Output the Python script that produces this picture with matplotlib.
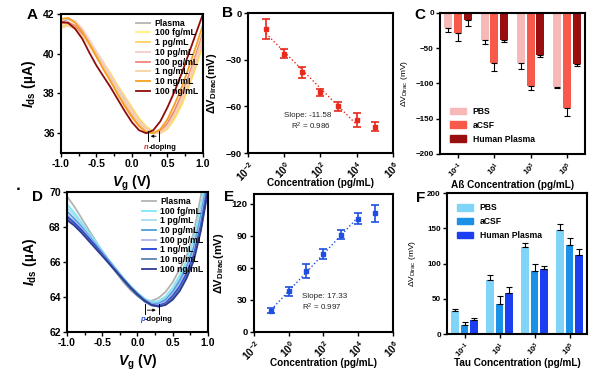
import numpy as np
import matplotlib
matplotlib.use('Agg')
import matplotlib.pyplot as plt
from matplotlib.patches import Patch

plt.rcParams['font.family'] = ['Liberation Sans', 'DejaVu Sans']
plt.rcParams['mathtext.fontset'] = 'custom'
plt.rcParams['mathtext.it'] = 'Liberation Sans:italic:bold'
plt.rcParams['mathtext.rm'] = 'Liberation Sans'
plt.rcParams['mathtext.bf'] = 'Liberation Sans:bold'

# ---------------- data ----------------
vg = [-1.0, -0.9, -0.8, -0.7, -0.6, -0.5, -0.4, -0.3, -0.2, -0.1, 0.0,
      0.1, 0.2, 0.3, 0.4, 0.5, 0.6, 0.7, 0.8, 0.9, 1.0]
conc_labels = ['Plasma', '100 fg/mL', '1 pg/mL', '10 pg/mL', '100 pg/mL',
               '1 ng/mL', '10 ng/mL', '100 ng/mL']

# panel A: Abeta transfer curves (uA)
ab_plasma = [41.55, 41.75, 41.6, 41.2, 40.65, 40.05, 39.45, 38.85, 38.25, 37.7, 37.1,
             36.55, 36.2, 36.0, 36.05, 36.4, 37.0, 37.8, 38.75, 39.8, 40.9]
ab_100fg = [41.3, 41.45, 41.35, 41.05, 40.6, 40.1, 39.55, 39.0, 38.4, 37.85, 37.3,
            36.75, 36.35, 36.1, 36.0, 36.2, 36.7, 37.4, 38.3, 39.3, 40.4]
ab_1pg = [41.35, 41.5, 41.4, 41.05, 40.55, 40.05, 39.5, 38.95, 38.35, 37.8, 37.25,
          36.7, 36.3, 36.05, 36.0, 36.25, 36.8, 37.5, 38.4, 39.4, 40.5]
ab_10pg = [41.7, 41.8, 41.65, 41.25, 40.7, 40.1, 39.5, 38.9, 38.3, 37.75, 37.15,
           36.6, 36.25, 36.05, 36.0, 36.3, 36.9, 37.65, 38.55, 39.6, 40.7]
ab_100pg = [41.5, 41.6, 41.4, 41.0, 40.45, 39.85, 39.25, 38.65, 38.05, 37.45, 36.9,
            36.45, 36.15, 36.0, 36.1, 36.5, 37.15, 37.95, 38.9, 39.95, 41.05]
ab_1ng = [41.3, 41.4, 41.25, 40.9, 40.4, 39.85, 39.3, 38.7, 38.1, 37.55, 37.0,
          36.5, 36.15, 36.0, 36.05, 36.35, 36.95, 37.75, 38.7, 39.75, 40.85]
ab_10ng = [41.75, 41.8, 41.55, 41.1, 40.5, 39.85, 39.2, 38.6, 37.95, 37.35, 36.8,
           36.35, 36.05, 36.0, 36.2, 36.7, 37.45, 38.3, 39.3, 40.35, 41.45]
ab_100ng = [41.6, 41.55, 41.25, 40.75, 40.05, 39.4, 38.85, 38.3, 37.7, 37.1, 36.55,
            36.15, 36.0, 36.15, 36.6, 37.3, 38.1, 39.0, 40.0, 41.0, 42.0]

# panel D: tau transfer curves (uA)
tau_plasma = [69.75, 69.2, 68.55, 67.9, 67.25, 66.6, 66.0, 65.4, 64.85, 64.4, 64.05,
              63.8, 63.78, 63.95, 64.3, 64.85, 65.6, 66.4, 67.7, 69.8, 72.0]
tau_100fg = [69.3, 68.85, 68.3, 67.75, 67.2, 66.65, 66.1, 65.6, 65.1, 64.65, 64.25,
             63.92, 63.72, 63.78, 64.05, 64.55, 65.25, 66.1, 67.3, 69.2, 71.5]
tau_1pg = [69.1, 68.7, 68.2, 67.65, 67.1, 66.6, 66.05, 65.55, 65.05, 64.6, 64.2,
           63.88, 63.67, 63.7, 63.95, 64.45, 65.1, 65.95, 67.1, 68.95, 71.2]
tau_10pg = [68.9, 68.5, 68.05, 67.55, 67.05, 66.55, 66.05, 65.55, 65.05, 64.6, 64.2,
            63.85, 63.62, 63.63, 63.85, 64.3, 64.95, 65.75, 66.85, 68.65, 70.9]
tau_100pg = [68.7, 68.35, 67.95, 67.5, 67.0, 66.5, 66.0, 65.5, 65.0, 64.55, 64.15,
             63.8, 63.58, 63.56, 63.75, 64.15, 64.75, 65.55, 66.6, 68.35, 70.6]
tau_1ng = [68.6, 68.25, 67.85, 67.4, 66.95, 66.45, 65.95, 65.45, 64.95, 64.5, 64.1,
           63.75, 63.53, 63.5, 63.65, 64.05, 64.6, 65.35, 66.4, 68.1, 70.4]
tau_10ng = [68.5, 68.15, 67.75, 67.3, 66.85, 66.4, 65.9, 65.4, 64.95, 64.5, 64.1,
            63.75, 63.52, 63.47, 63.6, 63.95, 64.5, 65.2, 66.25, 67.95, 70.2]
tau_100ng = [68.4, 68.1, 67.7, 67.25, 66.8, 66.35, 65.9, 65.45, 65.0, 64.55, 64.15,
             63.8, 63.55, 63.45, 63.55, 63.85, 64.35, 65.1, 66.1, 67.8, 70.1]

# panels B / E: Dirac shift vs concentration
conc = [1e-1, 1e0, 1e1, 1e2, 1e3, 1e4, 1e5]
ab_shift = [-10, -26, -38, -51, -60, -69, -73]
ab_shift_err = [6.5, 3, 3.5, 2, 2.7, 4.5, 3]
tau_shift = [20, 38, 57, 73, 91, 106, 111]
tau_shift_err = [2, 4, 6.5, 5, 4, 5, 8]
log_ticks = ['$\\mathbf{10^{-2}}$', '$\\mathbf{10^{0}}$', '$\\mathbf{10^{2}}$',
             '$\\mathbf{10^{4}}$', '$\\mathbf{10^{6}}$']

# panels C / F: bars in different media
groups = ['$\\mathbf{10^{-1}}$', '$\\mathbf{10^{1}}$', '$\\mathbf{10^{3}}$', '$\\mathbf{10^{5}}$']
media = ['PBS', 'aCSF', 'Human Plasma']
ab_pbs = [-22, -39, -71, -105]
ab_pbs_err = [5, 5, 8, 2]
ab_acsf = [-28, -71, -104, -135]
ab_acsf_err = [12, 11, 5, 12]
ab_hp = [-10, -38, -60, -73]
ab_hp_err = [8, 4, 3, 3]
tau_pbs = [33, 77, 124, 148]
tau_pbs_err = [2, 7, 5, 8]
tau_acsf = [13, 43, 90, 126]
tau_acsf_err = [4, 11, 9, 10]
tau_hp = [20, 58, 92, 112]
tau_hp_err = [2, 8, 5, 9]

red_cols = ['#b3b3b3', '#fff07a', '#ffd25e', '#f6cdd0', '#f3877c', '#f8d3a6', '#f5a21f', '#8e0c0c']
blue_cols = ['#b3b3b3', '#7ee8f2', '#a9dcf0', '#4aa0dc', '#aab3ec', '#1f3fd8', '#5a82ad', '#2e3b94']
ab_bar_cols = ['#f7b8b8', '#f75a4a', '#990f0f']
tau_bar_cols = ['#80d4f8', '#1a90e6', '#1b3ff0']


def style(ax, tick_size=7.5):
    for s in ax.spines.values():
        s.set_linewidth(1.5)
    ax.tick_params(width=1.0, length=3, labelsize=tick_size, pad=1.5)
    for lab in ax.get_xticklabels() + ax.get_yticklabels():
        lab.set_fontweight('bold')


def rot_labels(ax, size):
    for lab in ax.get_xticklabels():
        lab.set_rotation(45)
        lab.set_ha('right')
        lab.set_va('top')
        lab.set_rotation_mode('anchor')
        lab.set_fontsize(size)


fig = plt.figure(figsize=(6.09, 3.78), dpi=100)

# ---------------- A ----------------
ax = fig.add_axes([0.1002, 0.595, 0.233, 0.368])
for y, c, lab in zip([ab_plasma, ab_100fg, ab_1pg, ab_10pg, ab_100pg, ab_1ng, ab_10ng, ab_100ng],
                     red_cols, conc_labels):
    ax.plot(vg, y, color=c, lw=1.3, label=lab)
ax.set_xlim(-1, 1)
ax.set_ylim(35, 42)
ax.set_xticks([-1, -0.5, 0, 0.5, 1])
ax.set_xticklabels(['-1.0', '-0.5', '0.0', '0.5', '1.0'])
ax.set_xticks([-0.75, -0.25, 0.25, 0.75], minor=True)
ax.set_yticks([36, 38, 40, 42])
ax.tick_params(which='minor', length=2, width=1.0)
ax.set_xlabel('$V_{\\mathbf{g}}$ (V)', fontsize=10, fontweight='bold')
ax.xaxis.set_label_coords(0.5, -0.145)
ax.set_ylabel('$I_{\\mathbf{ds}}$ (µA)', fontsize=10, fontweight='bold')
ax.yaxis.set_label_coords(-0.16, 0.5)
ax.legend(loc='upper right', frameon=False, handlelength=1.6,
          labelspacing=0.08, handletextpad=0.5, borderaxespad=0.15,
          prop={'weight': 'bold', 'size': 6.3})
ax.plot([0.225, 0.225], [35.6, 36.1], color='k', lw=0.7)
ax.plot([0.38, 0.38], [35.6, 36.1], color='k', lw=0.7)
ax.annotate('', xy=(0.225, 35.85), xytext=(0.38, 35.85),
            arrowprops=dict(arrowstyle='-|>', color='k', lw=0.6, mutation_scale=4))
ax.text(0.235, 35.3, 'n', color='#e02020', fontsize=5.5, fontstyle='italic',
        fontweight='bold', ha='right', va='center')
ax.text(0.235, 35.3, '-doping', color='k', fontsize=5.5, fontweight='bold',
        ha='left', va='center')
style(ax)

# ---------------- B ----------------
ax = fig.add_axes([0.407, 0.595, 0.238, 0.370])
lx = np.log10(conc[:6])
k, b = np.polyfit(lx, ab_shift[:6], 1)
ax.plot(conc[:6], k * lx + b, ':', color='#e8291c', lw=1.0)
ax.errorbar(conc, ab_shift, yerr=ab_shift_err, fmt='s', color='#e8291c', ms=3,
            capsize=3, elinewidth=1.2, capthick=1.2)
ax.set_xscale('log')
ax.set_xlim(1e-2, 1e6)
ax.set_ylim(-90, 0)
ax.set_yticks([0, -30, -60, -90])
ax.set_xticks([1e-2, 1e0, 1e2, 1e4, 1e6])
ax.set_xticklabels(log_ticks)
ax.minorticks_off()
ax.set_xlabel('Concentration (pg/mL)', fontsize=7.2, fontweight='bold')
ax.xaxis.set_label_coords(0.5, -0.18)
ax.set_ylabel('$\\mathbf{\\Delta V_{Dirac}}$(mV)', fontsize=8, fontweight='bold')
ax.yaxis.set_label_coords(-0.2, 0.5)
ax.text(10 ** 2.6, -70, 'Slope: -11.58\nR$^2$ = 0.986', fontsize=5.8, ha='right',
        va='center', multialignment='right', color='#222222')
style(ax, 6.8)
rot_labels(ax, 7.2)

# ---------------- C ----------------
ax = fig.add_axes([0.7225, 0.593, 0.238, 0.373])
xpos = np.arange(len(groups))
w = 0.22
for i, (vals, errs) in enumerate([(ab_pbs, ab_pbs_err), (ab_acsf, ab_acsf_err), (ab_hp, ab_hp_err)]):
    ax.bar(xpos + (i - 1) * 0.27, vals, width=w, color=ab_bar_cols[i])
    ax.errorbar(xpos + (i - 1) * 0.27, vals, yerr=[errs, [0] * len(errs)], fmt='none',
                ecolor='k', elinewidth=0.8, capsize=2.5, capthick=0.8)
ax.set_xlim(-0.5, 3.5)
ax.set_ylim(-200, 0)
ax.set_yticks([0, -50, -100, -150, -200])
ax.set_xticks(xpos)
ax.set_xticklabels(groups)
ax.set_xlabel('Aß Concentration (pg/mL)', fontsize=7.2, fontweight='bold')
ax.xaxis.set_label_coords(0.5, -0.185)
ax.set_ylabel('$\\mathrm{\\Delta V_{Dirac}}$ (mV)', fontsize=6)
ax.yaxis.set_label_coords(-0.21, 0.5)
ax.legend([Patch(color=c) for c in ab_bar_cols], media, loc='lower left',
          frameon=False, prop={'weight': 'bold', 'size': 6.2}, handlelength=1.8,
          handleheight=0.8, labelspacing=0.55, borderaxespad=0.8)
style(ax, 5.8)
rot_labels(ax, 5.6)

# ---------------- D ----------------
ax = fig.add_axes([0.110, 0.1217, 0.2315, 0.370])
for y, c, lab in zip([tau_plasma, tau_100fg, tau_1pg, tau_10pg, tau_100pg, tau_1ng, tau_10ng, tau_100ng],
                     blue_cols, conc_labels):
    ax.plot(vg, y, color=c, lw=1.3, label=lab)
ax.set_xlim(-1, 1)
ax.set_ylim(62, 70)
ax.set_xticks([-1, -0.5, 0, 0.5, 1])
ax.set_xticklabels(['-1.0', '-0.5', '0.0', '0.5', '1.0'])
ax.set_xticks([-0.75, -0.25, 0.25, 0.75], minor=True)
ax.set_yticks([62, 64, 66, 68, 70])
ax.tick_params(which='minor', length=2, width=1.0)
ax.set_xlabel('$V_{\\mathbf{g}}$ (V)', fontsize=10, fontweight='bold')
ax.xaxis.set_label_coords(0.5, -0.15)
ax.set_ylabel('$I_{\\mathbf{ds}}$ (µA)', fontsize=10, fontweight='bold')
ax.yaxis.set_label_coords(-0.2, 0.5)
ax.legend(loc='upper right', frameon=False, handlelength=1.6,
          labelspacing=0.08, handletextpad=0.5, borderaxespad=0.15,
          prop={'weight': 'bold', 'size': 6.3})
ax.plot([0.1, 0.1], [63.05, 63.6], color='k', lw=0.7)
ax.plot([0.3, 0.3], [63.05, 63.6], color='k', lw=0.7)
ax.annotate('', xy=(0.3, 63.25), xytext=(0.1, 63.25),
            arrowprops=dict(arrowstyle='-|>', color='k', lw=0.6, mutation_scale=4))
ax.text(0.1, 62.7, 'p', color='#2050e0', fontsize=5.5, fontstyle='italic',
        fontweight='bold', ha='right', va='center')
ax.text(0.1, 62.7, '-doping', color='k', fontsize=5.5, fontweight='bold',
        ha='left', va='center')
style(ax)

# ---------------- E ----------------
ax = fig.add_axes([0.417, 0.1217, 0.228, 0.365])
k, b = np.polyfit(lx, tau_shift[:6], 1)
ax.plot(conc[:6], k * lx + b, ':', color='#1f4fe0', lw=1.0)
ax.errorbar(conc, tau_shift, yerr=tau_shift_err, fmt='s', color='#1f4fe0', ms=2.5,
            capsize=3, elinewidth=1.2, capthick=1.2)
ax.set_xscale('log')
ax.set_xlim(1e-2, 1e6)
ax.set_ylim(0, 129)
ax.set_yticks([0, 30, 60, 90, 120])
ax.set_xticks([1e-2, 1e0, 1e2, 1e4, 1e6])
ax.set_xticklabels(log_ticks)
ax.minorticks_off()
ax.set_xlabel('Concentration (pg/mL)', fontsize=7.2, fontweight='bold')
ax.xaxis.set_label_coords(0.5, -0.19)
ax.set_ylabel('$\\mathbf{\\Delta V_{Dirac}}$(mV)', fontsize=8, fontweight='bold')
ax.yaxis.set_label_coords(-0.2, 0.5)
ax.text(10 ** 0.75, 27, 'Slope: 17.33\nR$^2$ = 0.997', fontsize=5.8, ha='left',
        va='center', color='#222222')
style(ax, 6.8)
rot_labels(ax, 7.2)

# ---------------- F ----------------
ax = fig.add_axes([0.734, 0.1164, 0.230, 0.373])
for i, (vals, errs) in enumerate([(tau_pbs, tau_pbs_err), (tau_acsf, tau_acsf_err), (tau_hp, tau_hp_err)]):
    ax.bar(xpos + (i - 1) * 0.27, vals, width=w, color=tau_bar_cols[i])
    ax.errorbar(xpos + (i - 1) * 0.27, vals, yerr=[[0] * len(errs), errs], fmt='none',
                ecolor='k', elinewidth=0.8, capsize=2.5, capthick=0.8)
ax.set_xlim(-0.5, 3.5)
ax.set_ylim(0, 200)
ax.set_yticks([0, 50, 100, 150, 200])
ax.set_xticks(xpos)
ax.set_xticklabels(groups)
ax.set_xlabel('Tau Concentration (pg/mL)', fontsize=7.2, fontweight='bold')
ax.xaxis.set_label_coords(0.5, -0.17)
ax.set_ylabel('$\\mathrm{\\Delta V_{Dirac}}$ (mV)', fontsize=6)
ax.yaxis.set_label_coords(-0.21, 0.5)
ax.legend([Patch(color=c) for c in tau_bar_cols], media, loc='upper left',
          frameon=False, prop={'weight': 'bold', 'size': 6.2}, handlelength=1.8,
          handleheight=0.8, labelspacing=0.55, borderaxespad=0.8)
style(ax, 5.8)
rot_labels(ax, 5.6)

# panel letters
for lt, x, y in [('A', 0.052, 0.96), ('B', 0.374, 0.965), ('C', 0.69, 0.96),
                 ('D', 0.062, 0.478), ('E', 0.376, 0.478), ('F', 0.691, 0.476)]:
    fig.text(x, y, lt, fontsize=11, fontweight='bold', ha='center', va='center')
fig.text(0.03, 0.5, '■', fontsize=3.5, ha='center', va='center')

fig.savefig('out.png', dpi=100)
